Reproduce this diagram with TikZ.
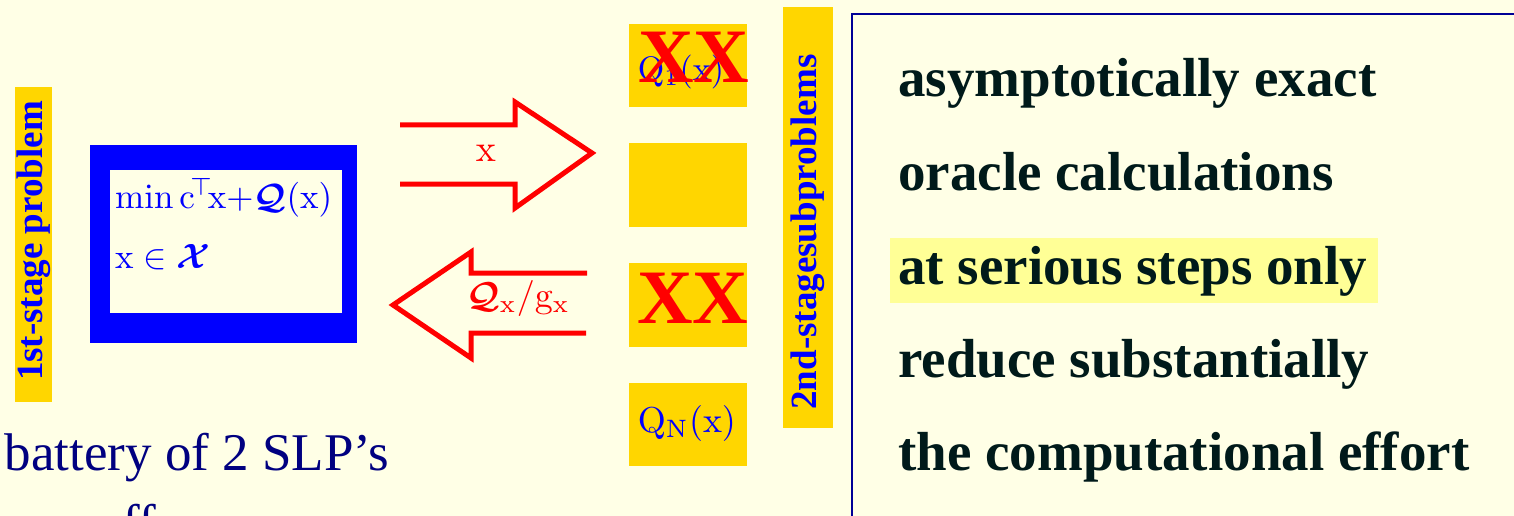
\documentclass[tikz,border=0pt]{standalone}
\usepackage[no-math]{fontspec}
\setmainfont{Liberation Serif}
\usepackage{amsmath}
\usepackage{bm}
\definecolor{bg}{RGB}{255,255,230}
\definecolor{gold}{RGB}{255,214,0}
\definecolor{navytext}{RGB}{0,0,128}
\definecolor{boxline}{RGB}{0,0,150}
\definecolor{darktext}{RGB}{0,26,26}
\definecolor{hl}{RGB}{255,255,150}
\newcommand{\vx}{\mathrm{x}}
\newcommand{\scmath}[2]{\scalebox{#1}{$#2$}}
\tikzset{
  goldbox/.style={fill=gold, inner sep=0pt},
  vlabel/.style={rotate=90, text=blue, font=\fontsize{37}{40}\selectfont\bfseries, inner sep=0pt},
  qlabel/.style={text=blue, inner sep=0pt},
  bigx/.style={text=red, font=\fontsize{77}{80}\selectfont\bfseries, inner sep=0pt},
  bigarrow/.style={draw=red, line width=5pt, miter limit=10},
  rtext/.style={anchor=base west, text=darktext, font=\fontsize{55}{60}\selectfont\bfseries, inner sep=0pt},
  mathtext/.style={anchor=base west, text=blue, inner sep=0pt},
}
\begin{document}
\begin{tikzpicture}[x=1pt,y=-1pt]
\useasboundingbox (0,0) rectangle (1514,516);
\fill[bg] (0,0) rectangle (1514,516);

% first-stage label
\node[goldbox, minimum width=37, minimum height=315, anchor=north west] (lab1) at (15,87) {};
\node[vlabel] (lab1t) at (34,241) {1st-stage problem};

% first-stage problem frame
\fill[blue] (90,145) rectangle (357,343);
\fill[bg] (110,170) rectangle (342,313);
\node[mathtext] (obj) at (115,208) {\scmath{3.5}{\min\mathrm{c}^{\!\top}\!\vx{+}\bm{\mathcal{Q}}(\vx)}};
\node[mathtext] (con) at (115,268) {\scmath{3.5}{\vx\in\bm{\mathcal{X}}}};

% arrows
\draw[bigarrow] (400,125) -- (515,125) -- (515,102) -- (592,153) -- (515,208) -- (515,184) -- (400,184);
\node[text=red, inner sep=0pt] (xl) at (486,153) {\scmath{3.8}{\vx}};
\draw[bigarrow] (587,273) -- (471,273) -- (471,252) -- (393,305) -- (471,358) -- (471,333) -- (586,333);
\node[text=red, inner sep=0pt] (ql) at (518,298) {\scmath{3.6}{\bm{\mathcal{Q}}_{\vx}/\mathrm{g}_{\vx}}};

% second-stage boxes
\node[goldbox, minimum width=118, minimum height=83, anchor=north west] (b1) at (629,24) {};
\node[goldbox, minimum width=118, minimum height=84, anchor=north west] (b2) at (629,143) {};
\node[goldbox, minimum width=118, minimum height=84, anchor=north west] (b3) at (629,263) {};
\node[goldbox, minimum width=118, minimum height=83, anchor=north west] (b4) at (629,383) {};
\node[qlabel] (q1) at (681,72) {\scmath{3.4}{\mathrm{Q}_1(\vx)}};
\node[bigx] (x1) at (694,57) {XX};
\node[bigx] (x3) at (693,298) {XX};
\node[qlabel] (qn) at (687,423) {\scmath{3.6}{\mathrm{Q}_{\mathrm{N}}(\vx)}};

% second-stage label
\node[goldbox, minimum width=50, minimum height=421, anchor=north west] (lab2) at (783,7) {};
\node[vlabel] (lab2t) at (808,232) {2nd-stagesubproblems};

% bottom text
\node[anchor=base east, text=navytext, inner sep=0pt, font=\fontsize{53}{60}\selectfont] (bat) at (389,470) {battery of 2 SLP’s};
\node[anchor=base west, text=navytext, inner sep=0pt, font=\fontsize{53}{60}\selectfont] (ff) at (122,541) {ff};

% right box
\draw[boxline, line width=2pt] (852,14) rectangle (1540,540);
\fill[hl] (890,238) rectangle (1378,303);
\node[rtext] (r1) at (898,97) {asymptotically exact};
\node[rtext] (r2) at (898,190) {oracle calculations};
\node[rtext] (r3) at (898,284) {at serious steps only};
\node[rtext] (r4) at (898,377) {reduce substantially};
\node[rtext] (r5) at (898,470) {the computational effort};
\end{tikzpicture}
\end{document}
